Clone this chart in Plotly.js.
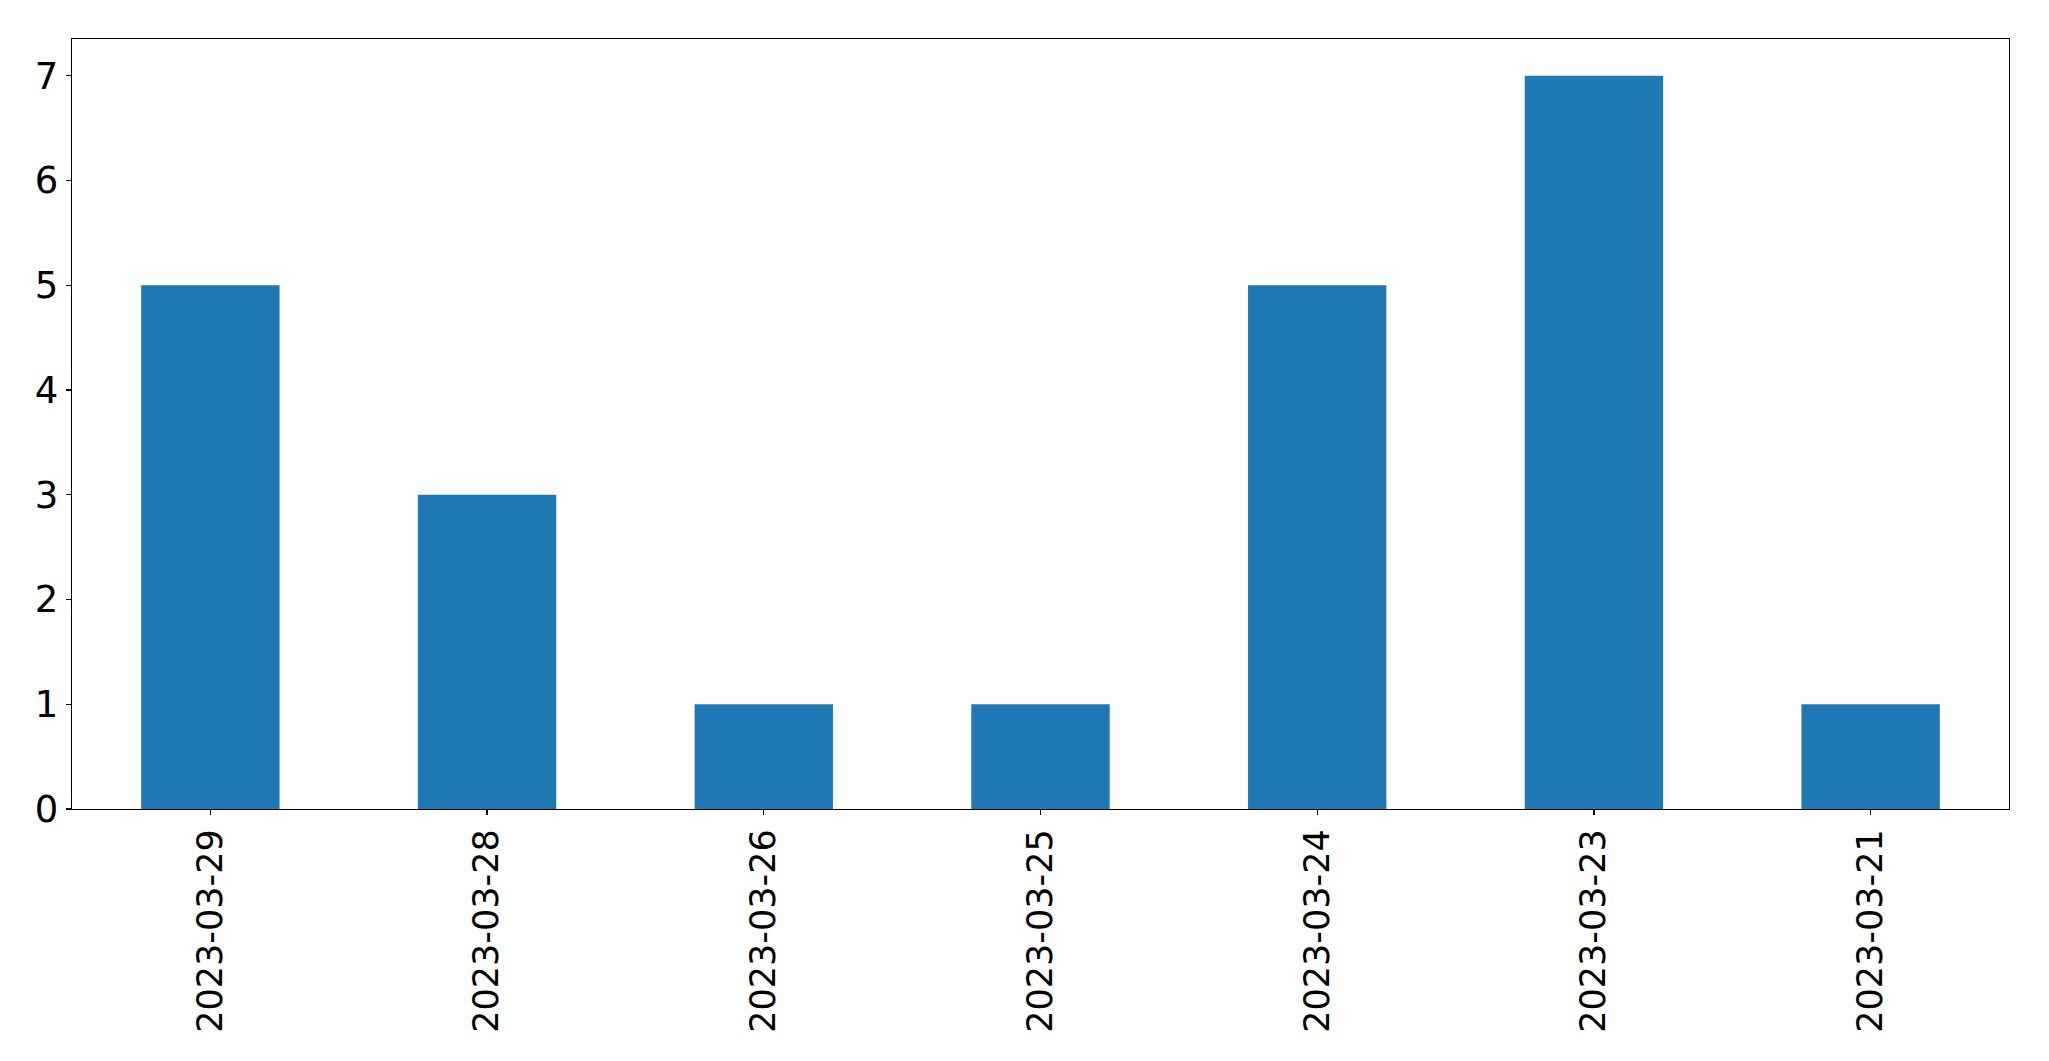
<!DOCTYPE html>
<html>
<head>
<meta charset="utf-8">
<script src="https://cdn.plot.ly/plotly-3.0.1.min.js"></script>
<style>html,body{margin:0;padding:0;background:#fff;}#chart{width:2049px;height:1061px;}</style>
</head>
<body>
<div id="chart"></div>
<script>
const categories = ["2023-03-29","2023-03-28","2023-03-26","2023-03-25","2023-03-24","2023-03-23","2023-03-21"];
const counts = [5, 3, 1, 1, 5, 7, 1];
const yTicks = [0, 1, 2, 3, 4, 5, 6, 7];

const trace = {
  type: "bar",
  x: categories,
  y: counts,
  width: 0.5,
  marker: {color: "#1f77b4", line: {width: 0}},
  hoverinfo: "x+y"
};

const layout = {
  width: 2049,
  height: 1061,
  margin: {l: 72, r: 40, t: 39, b: 252, pad: 0},
  paper_bgcolor: "#ffffff",
  plot_bgcolor: "#ffffff",
  showlegend: false,
  font: {family: "DejaVu Sans", size: 35, color: "#000000"},
  xaxis: {
    type: "category",
    range: [-0.5, 6.5],
    tickangle: -90,
    ticks: "outside",
    ticklen: 5,
    tickwidth: 1.3,
    tickcolor: "#000",
    showline: true,
    linecolor: "#000",
    linewidth: 1.3,
    mirror: true,
    showgrid: false,
    zeroline: false,
    tickfont: {family: "DejaVu Sans", size: 35, color: "#000"}
  },
  yaxis: {
    range: [0, 7.35],
    tickvals: yTicks,
    ticktext: yTicks.map(String),
    ticks: "outside",
    ticklen: 5,
    tickwidth: 1.3,
    tickcolor: "#000",
    showline: true,
    linecolor: "#000",
    linewidth: 1.3,
    mirror: true,
    showgrid: false,
    zeroline: false,
    tickfont: {family: "DejaVu Sans", size: 37, color: "#000"}
  },
  bargap: 0.5
};

Plotly.newPlot("chart", [trace], layout, {displayModeBar: false, staticPlot: true});
</script>
</body>
</html>
